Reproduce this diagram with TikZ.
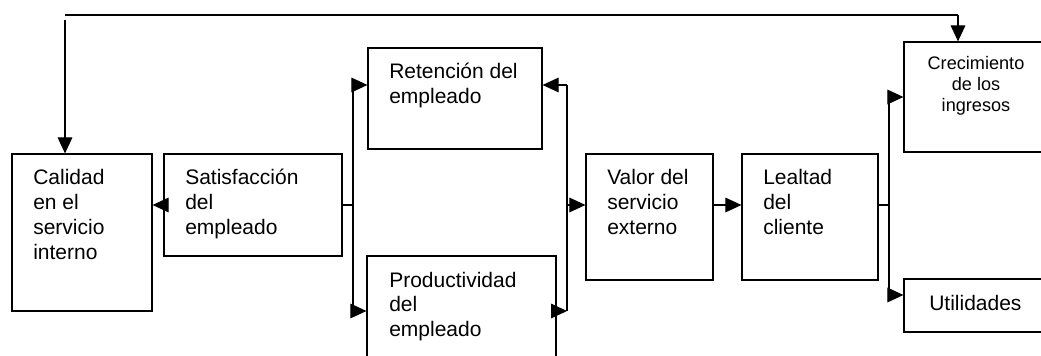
\documentclass[tikz,border=0pt]{standalone}
\usepackage{fontspec}
\setmainfont{Liberation Sans}
\usetikzlibrary{arrows.meta,fit,calc}
\begin{document}
\begin{tikzpicture}[x=0.75pt,y=-0.75pt,
  box/.style={draw, line width=0.9pt, inner sep=0pt},
  conn/.style={line width=0.8pt},
  arr/.style={conn, -{Triangle[length=12pt,width=11pt]}},
  txt/.style={inner sep=0pt, anchor=base west, font=\fontsize{15.75}{18.5}\selectfont},
  smalltxt/.style={inner sep=0pt, anchor=base, font=\fontsize{13.6}{15.75}\selectfont}]
\clip (0,0) rectangle (1041,356);
% boxes
\node[box, fit={(12,154) (152,311)}] (cal) {};
\node[box, fit={(164,154) (342,256)}] (sat) {};
\node[box, fit={(368,48) (542,149)}] (ret) {};
\node[box, fit={(367,256) (556,372)}] (pro) {};
\node[box, fit={(586,154) (713,280)}] (val) {};
\node[box, fit={(742,154) (878,280)}] (lea) {};
\node[box, fit={(904,42) (1052,152)}] (cre) {};
\node[box, fit={(904,279) (1052,332)}] (uti) {};
% texts
\node[txt] (calT) at (33,185) {\begin{tabular}[t]{@{}l@{}}Calidad\\en el\\servicio\\interno\end{tabular}};
\node[txt] (satT) at (185,185) {\begin{tabular}[t]{@{}l@{}}Satisfacción\\del\\empleado\end{tabular}};
\node[txt] (retT) at (389,79) {\begin{tabular}[t]{@{}l@{}}Retención del\\empleado\end{tabular}};
\node[txt] (proT) at (389,287) {\begin{tabular}[t]{@{}l@{}}Productividad\\del\\empleado\end{tabular}};
\node[txt] (valT) at (607,185) {\begin{tabular}[t]{@{}l@{}}Valor del\\servicio\\externo\end{tabular}};
\node[txt] (leaT) at (763,185) {\begin{tabular}[t]{@{}l@{}}Lealtad\\del\\cliente\end{tabular}};
\node[smalltxt] (creT) at (976,70) {\begin{tabular}[t]{@{}c@{}}Crecimiento\\de los\\ingresos\end{tabular}};
\node[txt] (utiT) at (929,310) {Utilidades};
% junction coordinates
\coordinate (jL) at (353,205);
\coordinate (jLt) at (353,85);
\coordinate (jLb) at (353,311);
\coordinate (jR) at (567,205);
\coordinate (jRt) at (567,85);
\coordinate (jRb) at (567,311);
\coordinate (jE) at (889,205);
\coordinate (jEt) at (889,97);
\coordinate (jEb) at (889,295);
\coordinate (tL) at (65,15);
\coordinate (tL2) at (65,20);
\coordinate (tR) at (958,15);
% connectors
\draw[arr] (sat.west) -- (cal.east |- sat.west);
\draw[conn] (sat.east) -- (jL);
\draw[conn] (jLt) -- (jLb);
\draw[arr] (jLt) -- (ret.west |- jLt);
\draw[arr] (jLb) -- (pro.west |- jLb);
\draw[conn] (jRt) -- (jRb);
\draw[arr] (jRt) -- (ret.east |- jRt);
\draw[arr] (pro.east |- jRb) -- (jRb);
\draw[arr] (jR) -- (val.west |- jR);
\draw[arr] (val.east |- jR) -- (lea.west |- jR);
\draw[conn] (lea.east |- jE) -- (jE);
\draw[conn] (jEt) -- (jEb);
\draw[arr] (jEt) -- (cre.west |- jEt);
\draw[arr] (jEb) -- (uti.west |- jEb);
\draw[conn] (tL) -- (tR);
\draw[arr] (tR) -- (tR |- cre.north);
\draw[arr] (tL2) -- (tL2 |- cal.north);
\end{tikzpicture}
\end{document}
